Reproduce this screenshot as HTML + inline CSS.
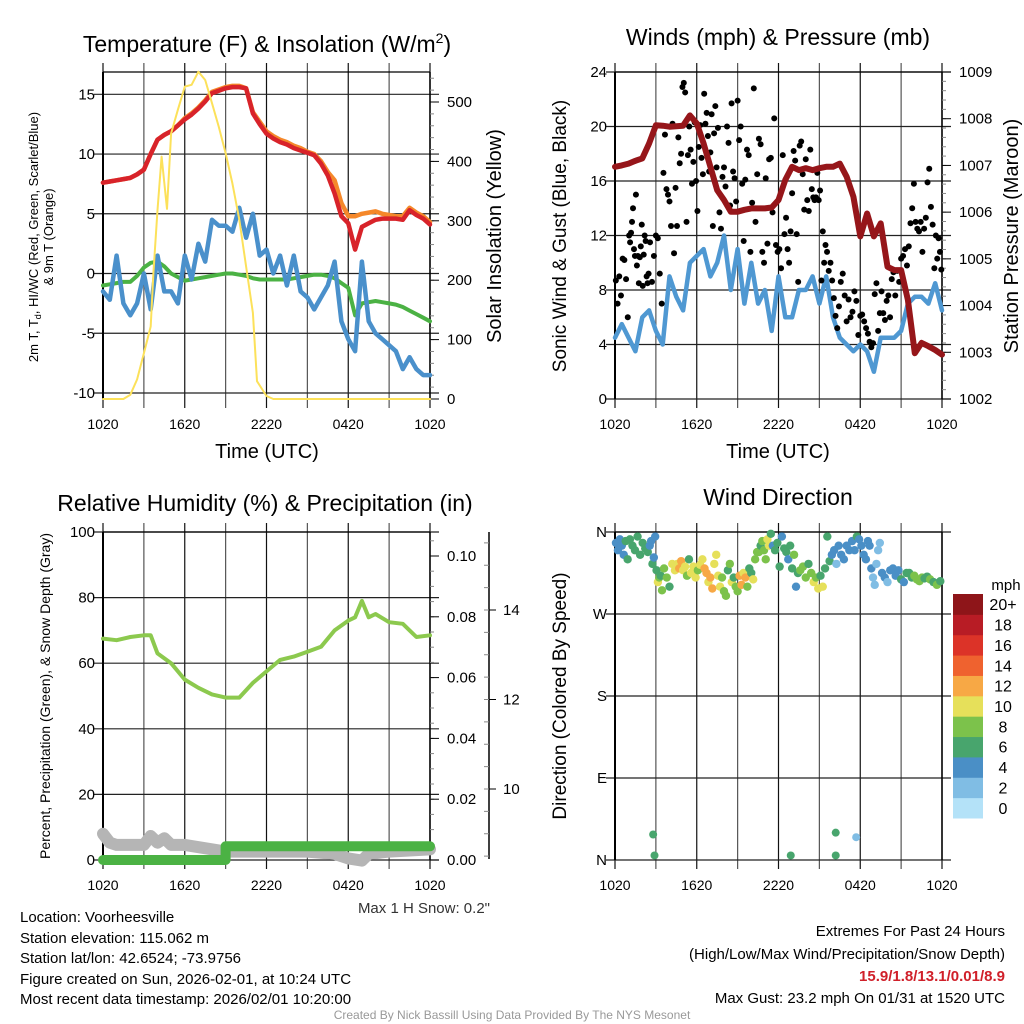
<!DOCTYPE html>
<html><head><meta charset="utf-8"><style>
html,body{margin:0;padding:0;background:#fff;}
svg{display:block;font-family:"Liberation Sans",Arial,sans-serif;}
</style></head><body>
<svg id="c" xmlns="http://www.w3.org/2000/svg" width="1024" height="1024" viewBox="0 0 1024 1024">
<rect width="1024" height="1024" fill="#fff"/>
<g>
<text x="267" y="52" font-size="23" text-anchor="middle">Temperature (F) &amp; Insolation (W/m<tspan font-size="14" dy="-9">2</tspan><tspan dy="9">)</tspan></text>
<text x="778" y="45" font-size="23" text-anchor="middle">Winds (mph) &amp; Pressure (mb)</text>
<text x="265" y="511" font-size="23" text-anchor="middle">Relative Humidity (%) &amp; Precipitation (in)</text>
<text x="778" y="505" font-size="23" text-anchor="middle">Wind Direction</text>
</g>
<g font-size="20">
<text x="267" y="458" text-anchor="middle">Time (UTC)</text>
<text x="778" y="458" text-anchor="middle">Time (UTC)</text>
<text transform="translate(38,237) rotate(-90)" font-size="13" text-anchor="middle">2m T, T<tspan font-size="9" dy="3">d</tspan><tspan dy="-3">, HI/WC (Red, Green, Scarlet/Blue)</tspan></text>
<text transform="translate(53,237) rotate(-90)" font-size="13" text-anchor="middle">&amp; 9m T (Orange)</text>
<text transform="translate(501,236) rotate(-90)" text-anchor="middle">Solar Insolation (Yellow)</text>
<text transform="translate(566,236) rotate(-90)" text-anchor="middle" font-size="19">Sonic Wind &amp; Gust (Blue, Black)</text>
<text transform="translate(1018,236) rotate(-90)" text-anchor="middle">Station Pressure (Maroon)</text>
<text transform="translate(50,696) rotate(-90)" font-size="14" text-anchor="middle">Percent, Precipitation (Green), &amp; Snow Depth (Gray)</text>
<text transform="translate(566,696) rotate(-90)" text-anchor="middle" font-size="19">Direction (Colored By Speed)</text>
</g>
<g font-size="15">
<text x="490" y="913" text-anchor="end" fill="#333">Max 1 H Snow: 0.2"</text>
<text x="20" y="922">Location: Voorheesville</text>
<text x="20" y="943">Station elevation: 115.062 m</text>
<text x="20" y="963">Station lat/lon: 42.6524; -73.9756</text>
<text x="20" y="984">Figure created on Sun, 2026-02-01, at 10:24 UTC</text>
<text x="20" y="1004">Most recent data timestamp: 2026/02/01 10:20:00</text>
<text x="1005" y="936" text-anchor="end">Extremes For Past 24 Hours</text>
<text x="1005" y="959" text-anchor="end">(High/Low/Max Wind/Precipitation/Snow Depth)</text>
<text x="1005" y="981" text-anchor="end" fill="#d0202a" font-weight="bold">15.9/1.8/13.1/0.01/8.9</text>
<text x="1005" y="1003" text-anchor="end">Max Gust: 23.2 mph On 01/31 at 1520 UTC</text>
<text x="512" y="1019" text-anchor="middle" font-size="12" fill="#999">Created By Nick Bassill Using Data Provided By The NYS Mesonet</text>
</g>
</svg>
<script>
// ---------- data ----------
const timeTicks=[0,3,6,9,12,15,18,21,24];
const timeLabels=["1020","1620","2220","0420","1020"];
const halfHours=[0,0.5,1,1.5,2,2.5,3,3.5,4,4.5,5,5.5,6,6.5,7,7.5,8,8.5,9,9.5,10,10.5,11,11.5,12,12.5,13,13.5,14,14.5,15,15.5,16,16.5,17,17.5,18,18.5,19,19.5,20,20.5,21,21.5,22,22.5,23,23.5,24];
const temp2m=[7.6,7.7,7.8,7.9,8.0,8.3,8.7,10.0,11.2,11.6,11.9,12.4,12.9,13.3,13.8,14.4,15.1,15.3,15.5,15.6,15.6,15.5,13.4,12.5,11.7,11.3,11.0,10.8,10.5,10.3,10.1,9.9,9.2,8.2,6.7,4.8,4.2,2.0,3.9,4.2,4.5,4.6,4.6,4.6,4.5,5.3,4.9,4.6,4.1];
const temp9m=[7.6,7.7,7.8,7.9,8.0,8.3,8.7,10.0,11.2,11.6,11.9,12.4,13.0,13.4,13.9,14.5,15.2,15.4,15.6,15.7,15.7,15.5,13.5,12.7,11.9,11.5,11.2,11.0,10.7,10.5,10.2,10.0,9.4,8.5,7.8,5.9,4.8,4.8,5.0,5.1,5.2,5.0,4.9,4.8,4.8,5.5,5.1,4.8,4.3];
const dewpoint=[-1.0,-0.9,-0.8,-0.7,-0.7,-0.2,0.5,0.9,1.0,0.6,0,-0.3,-0.6,-0.5,-0.4,-0.3,-0.2,-0.1,0,0,-0.1,-0.2,-0.4,-0.5,-0.5,-0.5,-0.5,-0.5,-0.4,-0.3,-0.2,-0.1,-0.1,-0.2,-0.4,-0.8,-1.2,-3.5,-2.5,-2.4,-2.3,-2.4,-2.5,-2.6,-2.8,-3.1,-3.4,-3.7,-4.0];
const windChill=[-1.5,-2.2,1.5,-2.5,-3.5,-2.5,0,-3,1.5,-1.5,-1.5,-2.5,1.5,-0.5,2.5,1,4.5,4,4,3.5,5.5,3,5,1.5,2,0,1.5,-1,1.5,-1.5,-2,-3,-2,-1,1,-4,-5.5,-6.5,1,-4,-5,-5.5,-6,-6.5,-8,-7,-8,-8.5,-8.5];
const insolHours=[0,1.5,2,2.5,3,3.5,3.7,4,4.3,4.7,5,5.5,6,6.5,7,7.5,8,8.5,9,9.5,10,10.5,11,11.3,12,12.5,24];
const insolation=[0,0,7,33,77,122,212,318,408,320,447,487,526,529,551,537,498,458,414,363,302,223,145,30,5,0,0];
const windSpeed=[4.5,5.5,4.5,3.5,6,6.5,5,4,9,7.5,6.5,10,10.5,11,9,10,12,8,11,7,10,7,8,5,9,6,6,8,8,9,7,9,6,4.5,4,3.5,4,3.5,2,4.5,4.5,4.5,5,7,7.5,7.5,7,8.5,6.5];
const pressure=[1006.97,1007.0,1007.04,1007.1,1007.15,1007.47,1007.86,1007.85,1007.83,1007.84,1007.85,1008.07,1007.9,1007.47,1006.97,1006.47,1006.26,1006.01,1006.01,1006.05,1006.08,1006.08,1006.08,1006.1,1006.26,1006.69,1006.97,1006.9,1006.94,1006.9,1006.94,1006.97,1006.97,1007.04,1006.76,1006.33,1005.48,1005.97,1005.48,1005.76,1004.83,1004.76,1004.76,1004.12,1002.98,1003.2,1003.13,1003.05,1002.95];
const gustBucketStart=[0,1,2.5,3.5,4.5,5.5,6.5,7.5,8.5,9.5,10.5,11.5,12.5,13.5,14.5,15.5,16.5,17.5,18.5,19.5,20.5,21.5,22.5,23.5];
const gustBucketVals=[[8.7,7,9,7.6,10.3,10.2,8.8,6],[12,11.5,12.2,13,14,11,10.5,15,9.8,10.5,8.5,10.4,11.2,12.8,8.3,10.6,12,11.6,9,8.5,9.2],[11.5,8.6,10.5,12,11.8,9.2,7],[16.6,19.4,15.4,15,14.5,12.7,20.2,10.7,15.5],[12.7,19.2,17.3,18,22.9,23.2,22.5,13,17.9,20],[18.3,15.8,17.4,20.3,16,13.8,18.5,20.1,17.7,16.5],[22.4,20.2,21,19.3,16.7,18.1,20.9,12.7,19.5,21.5,17],[19.9,13.7,12.5,16.3,17,15.6,20,18.8,14.2],[21.7,16.7,16.2,14.5,21.9,19,20,15.8,11.6],[16.1,18.3,17.9,10.8,14.4,22.8,13,16.5],[19.1,18.7,10.8,10,16.2,11.4,17.6,17.7],[13.7,20.6,11.3,10.8,11,9.6,17.9,12.1],[13.3,11,10,12.3,15.1,18.2,17.5,12.1,8.6],[18.6,18.9,16.5,13.9,17.6,14.6,13.8,18.3,15.4],[14.8,14.6,14.8,16.6,14.6,15.3,8.7,12.3,10,11.3],[10.8,9.4,10,8.7,7.4,6.1,5.2,6.8],[8.6,9.2,7.6,5.7,7.3,6,6.4],[7.9,7.2,4.7,6.1,6.2,5.7,5.2],[4.8,4.2,3.8,4.1,7.7,8.5,5,6.3],[7.9,6.3,5.8,7.2,7.6,6,8.8,9.3],[7.6,9.4,8.6,10.3,10.5,11,9.8],[11.2,12.9,14,15.8,13,12.5,12.3,13],[10.8,12.5,13.3,15.9,16.9,14.1,12.8,9.6],[12,10.3,11.8,10.8,9.5]];
const rhHours=[0,1,2,3,3.5,4,5,6,7,8,9,10,11,12,13,14,15,16,17,18,18.5,19,19.5,20,21,22,23,24];
const humidity=[67.5,67,68,68.5,68.5,63,60,55,52.5,50.5,49.5,49.5,54,57.5,61,62,63.5,65,70,73,74,79,74,75,72.5,72,68,68.5];
const precipHours=[0,9,9,24];
const precip=[0,0,0.0045,0.0045];
const snowHours=[0,0.5,1,2,3,3.5,4,4.5,5,6,9,12,15,17,18,19,19.5,21,24];
const snowDepth=[9.0,8.8,8.75,8.75,8.75,8.95,8.8,8.9,8.75,8.75,8.6,8.6,8.6,8.55,8.45,8.4,8.55,8.6,8.65];
const dirBucketStart=[0,1,2.5,3,3.5,4.5,5.5,6.5,7.5,8.5,9.5,10.5,11.5,12.5,13.5,14.5,15.5,16.5,17.5,18.5,19.5,20.5,21.5,23];
const dirBucketDeg=[[348,340,352,345,335,350,330],[352,345,340,355,335,348,342,338],[345,350,325,332,355],[318,305,310,312,296],[320,310,300,325,318],[325,320,328,318,322,312,330],[315,322,310,318,324,330],[320,315,305,310,298,325,335],[312,300,310,295,290,318,325],[305,310,300,295,312,302,315],[310,300,320,315,308,330,338],[338,345,350,340,330,352,345,358],[345,340,348,322,355,342],[338,330,345,320,335,300,315],[318,322,310,325,315],[305,310,298,312,300,320],[355,328,335,340,325,345],[335,330,345,340,350],[340,355,352,345,335,330],[350,345,320,310,302,325,340,348],[315,310,305,318,320],[312,318,308,305,315],[315,310,312,308,306,310,309,311],[308,305,302,306]];
const dirBucketSpd=[[4,4,4,4,4,6,6],[6,6,6,6,6,6,6,6],[4,4,6,4,4],[6,10,8,6,8],[8,8,6,10,10],[10,12,12,10,10,8,6],[10,10,10,8,10,10],[12,12,10,12,12,10,10],[10,10,8,8,8,6,8],[10,6,8,8,12,12,10],[12,8,6,6,10,8,8],[8,6,8,8,8,10,10,6],[4,6,6,6,4,6],[6,4,6,6,8,4,6],[8,8,8,6,8],[10,8,10,6,10,6],[6,6,4,4,2,4],[4,4,4,4,4],[4,6,4,4,4,4],[4,4,4,2,2,2,2,2],[4,4,2,4,4],[4,4,6,4,6],[6,6,8,8,8,8,6,6],[8,6,8,6]];
const lowDirHours=[2.8,2.9,12.9,16.2,16.2,17.7];
const lowDirDeg=[28,5,5,30,5,25];
const lowDirSpd=[6,6,6,6,6,2];
const speedColors=["#b4e2f8","#80bde4","#4a8fc6","#48a56d","#7cc24b","#e6e05a","#f7a845","#ef622f","#dc3328","#b81c25","#8e1519"];
const speedLabels=["0","2","4","6","8","10","12","14","16","18","20+"];
const tempTicks=[-10,-5,0,5,10,15];
const insolTicks=[0,100,200,300,400,500];
const windTicks=[0,4,8,12,16,20,24];
const presTicks=[1002,1003,1004,1005,1006,1007,1008,1009];
const rhTicks=[0,20,40,60,80,100];
const precipTicks=[0,0.02,0.04,0.06,0.08,0.10];
const snowTicks=[10,12,14];
const dirTicks=[0,90,180,270,360];
const dirLabels=["N","E","S","W","N"];

// ---------- helpers ----------
const svg=document.getElementById('c');
const NS='http://www.w3.org/2000/svg';
function mk(tag,attrs,parent){const e=document.createElementNS(NS,tag);for(const k in attrs)e.setAttribute(k,attrs[k]);(parent||svg).appendChild(e);return e;}
function lin(d0,d1,r0,r1){return v=>r0+(v-d0)*(r1-r0)/(d1-d0);}
function txt(x,y,s,anchor,size,parent,name){const t=mk('text',{x:x,y:y,'text-anchor':anchor,'font-size':size},parent);t.textContent=s;return t;}

function panel(name,x0,x1,y0,y1,yScale,yTicks,yLabels){
  const g=mk('g',{});
  
  
  const xs=lin(0,24,x0,x1);
  const grid=mk('g',{stroke:'#222','stroke-width':1.2},g);
  
  
  timeTicks.forEach((h,i)=>{const l=mk('line',{x1:xs(h),x2:xs(h),y1:y0-9,y2:y1+9,stroke:(i%2?'#555':'#111')},grid);});
  yTicks.forEach(v=>{const l=mk('line',{x1:x0-9,x2:x1+9,y1:yScale(v),y2:yScale(v)},grid);});
  mk('line',{x1:x0,x2:x1,y1:y0,y2:y0,stroke:'#000','stroke-width':1.3},g);
  const lax=mk('line',{x1:x0,x2:x0,y1:y0,y2:y1,stroke:'#000','stroke-width':2},g);
  
  const rax=mk('line',{x1:x1,x2:x1,y1:y0,y2:y1,stroke:'#000','stroke-width':1.5},g);
  
  yTicks.forEach((v,i)=>txt(x0-8,yScale(v)+5,yLabels[i],'end',15,g,'y-tick-label'));
  timeLabels.forEach((s,i)=>txt(xs(i*6),y1+30,s,'middle',14,g,'x-tick-label'));
  return {g,xs};
}
function rightAxis(g,x,y0,y1,scale,ticks,labels,minorStep,d0,d1,name){
  const ax=mk('g',{stroke:'#000','stroke-width':1},g);
  
  for(let v=d0;v<=d1+1e-9;v+=minorStep){const l=mk('line',{x1:x,x2:x+4,y1:scale(v),y2:scale(v),stroke:'#888'},ax);}
  ticks.forEach((v,i)=>{const l=mk('line',{x1:x,x2:x+9,y1:scale(v),y2:scale(v)},ax);txt(x+17,scale(v)+5,labels[i],'start',15,g,'right-tick-label');});
}
function path(g,xs,ys,hours,vals,color,w,name){
  const d=hours.map((h,i)=>(i?'L':'M')+xs(h).toFixed(1)+','+ys(vals[i]).toFixed(1)).join('');
  const p=mk('path',{d:d,fill:'none',stroke:color,'stroke-width':w,'stroke-linejoin':'round','stroke-linecap':'round'},g);
  return p;
}

// ---------- panel 1: temperature ----------
const tY=lin(-10,15,393,94.3);
const iY=lin(0,500,399,102);
const p1=panel('temperature-panel',103,430,72,399,tY,tempTicks,tempTicks.map(String));
rightAxis(p1.g,430,72,399,iY,insolTicks,insolTicks.map(String),20,0,540,'insolation-axis');
const c1=mk('g',{},p1.g);c1.setAttribute('clip-path','url(#clip1)');
const cp=mk('clipPath',{id:'clip1'},svg);mk('rect',{x:95,y:68,width:345,height:336},cp);
path(c1,p1.xs,tY,halfHours,temp9m,'#f5882a',4.5,'temp-9m-line');
path(c1,p1.xs,tY,halfHours,temp2m,'#d8232a',4.5,'temp-2m-line');
path(c1,p1.xs,tY,halfHours,dewpoint,'#4bb244',4,'dewpoint-line');
path(c1,p1.xs,tY,halfHours,windChill,'#4a90cb',4.5,'windchill-line');
path(c1,p1.xs,iY,insolHours,insolation,'#fce15a',2,'insolation-line');

// ---------- panel 2: wind ----------
const wY=lin(0,24,399,72);
const pY=lin(1002,1009,399,72);
const p2=panel('wind-panel',615,942,72,399,wY,windTicks,windTicks.map(String));
rightAxis(p2.g,942,72,399,pY,presTicks,presTicks.map(String),0.2,1002,1009,'pressure-axis');
path(p2.g,p2.xs,wY,halfHours,windSpeed,'#4f98d2',4.5,'wind-speed-line');
const gg=mk('g',{fill:'#000'},p2.g);
gustBucketStart.forEach((s,b)=>{const vals=gustBucketVals[b];const end=b+1<gustBucketStart.length?gustBucketStart[b+1]:24;vals.forEach((v,i)=>{const h=s+(end-s)*(i+0.5)/vals.length;const c=mk('circle',{cx:p2.xs(h),cy:wY(v),r:3},gg);});});
path(p2.g,p2.xs,pY,halfHours,pressure,'#96161a',6,'pressure-line');

// ---------- panel 3: humidity ----------
const rY=lin(0,100,860,532);
const prY=lin(0,0.10,860,556);
const sY=lin(10,14,789,610);
const p3=panel('humidity-panel',103,430,532,860,rY,rhTicks,rhTicks.map(String));
rightAxis(p3.g,430,532,860,prY,precipTicks,precipTicks.map(v=>v.toFixed(2)),0.005,0,0.105,'precip-axis');
const sx=mk('g',{stroke:'#000'},p3.g);
mk('line',{x1:489,x2:489,y1:532,y2:859,'stroke-width':1.5},sx);
for(let v=8.5;v<=15.6;v+=0.5){const l=mk('line',{x1:484,x2:489,y1:sY(v),y2:sY(v),stroke:'#888'},sx);}
snowTicks.forEach(v=>{const l=mk('line',{x1:489,x2:496,y1:sY(v),y2:sY(v)},sx);txt(503,sY(v)+5,String(v),'start',15,p3.g,'snow-tick-label');});
path(p3.g,p3.xs,sY,snowHours,snowDepth,'#b5b5b5',12,'snow-depth-line');
path(p3.g,p3.xs,prY,precipHours,precip,'#4bb244',10,'precip-line');
path(p3.g,p3.xs,rY,rhHours,humidity,'#8cc94e',4,'humidity-line');

// ---------- panel 4: direction ----------
const dY=lin(0,360,860,532);
const p4=panel('direction-panel',615,942,532,860,dY,dirTicks,dirLabels);
const dg=mk('g',{},p4.g);
function col(s){return speedColors[Math.min(10,Math.floor(s/2))];}
dirBucketStart.forEach((s,b)=>{const ds=dirBucketDeg[b];const end=b+1<dirBucketStart.length?dirBucketStart[b+1]:24;ds.forEach((d,i)=>{const h=s+(end-s)*(i+0.5)/ds.length;const c=mk('circle',{cx:p4.xs(h),cy:dY(d),r:4.2,fill:col(dirBucketSpd[b][i])},dg);});});
lowDirHours.forEach((h,i)=>{const c=mk('circle',{cx:p4.xs(h),cy:dY(lowDirDeg[i]),r:4,fill:col(lowDirSpd[i])},dg);});
const lg=mk('g',{});
txt(1006,590,'mph','middle',15,lg,'colorbar-title');
const boxH=(818-594)/11;
speedColors.forEach((c,i)=>{const y=818-(i+1)*boxH;const r=mk('rect',{x:953,y:y,width:30,height:boxH+0.5,fill:c},lg);txt(1003,y+boxH/2+6,speedLabels[i],'middle',16,lg,'colorbar-label');});
</script>
</body></html>
